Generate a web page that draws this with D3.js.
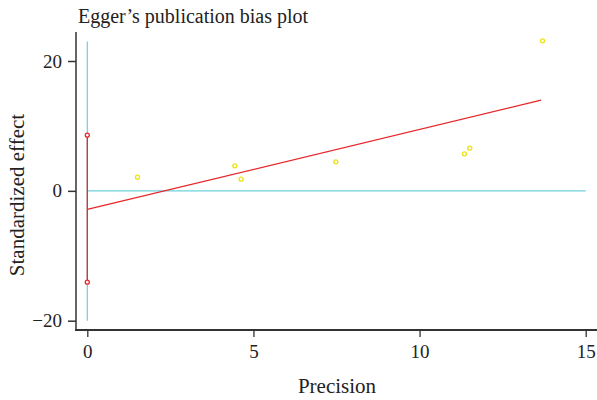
<!DOCTYPE html>
<meta charset="utf-8">
<script src="https://d3js.org/d3.v7.min.js"></script>
<style>
  body { margin: 0; background: #fff; }
  text { font-family: "Liberation Serif", "DejaVu Serif", serif; fill: #222; }
</style>
<div id="my_dataviz"></div>
<script>
// study points: precision vs standardized effect
var precision = [1.51, 4.44, 4.63, 7.48, 11.35, 11.51, 13.70];
var stdEffect = [2.11, 3.85, 1.80, 4.47, 5.70, 6.58, 23.1];

// regression line (intercept at 0, end at max precision)
var fitX = [0, 13.66];
var fitY = [-2.87, 13.97];

// confidence interval of the intercept
var ciBounds = [8.58, -14.07];

var xTicks = [0, 5, 10, 15];
var yTicks = [-20, 0, 20];

var W = 597, H = 400;

var svg = d3.select("#my_dataviz")
  .append("svg")
    .attr("width", W)
    .attr("height", H);

var x = d3.scaleLinear().domain([0, 15]).range([87.3, 585.7]);
var y = d3.scaleLinear().domain([-20, 20]).range([320.7, 61]);

// axis lines
svg.append("line")
  .attr("x1", 76).attr("x2", 76)
  .attr("y1", 32).attr("y2", 331)
  .attr("stroke", "#666").attr("stroke-width", 2);
svg.append("line")
  .attr("x1", 75).attr("x2", 597)
  .attr("y1", 330).attr("y2", 330)
  .attr("stroke", "#333").attr("stroke-width", 2);

// Y axis
var yAxis = svg.append("g")
  .attr("transform", "translate(76,0)")
  .call(d3.axisLeft(y).tickValues(yTicks).tickSize(8).tickPadding(6)
    .tickFormat(function (d) { return d < 0 ? "\u2212" + Math.abs(d) : d; }));
yAxis.select(".domain").remove();
yAxis.selectAll("line").attr("stroke", "#333").attr("stroke-width", 1.5);
yAxis.selectAll("text").attr("font-size", 19).attr("fill", "#222")
  .style("font-family", "Liberation Serif, serif");

// X axis
var xAxis = svg.append("g")
  .attr("transform", "translate(0,330)")
  .call(d3.axisBottom(x).tickValues(xTicks).tickSize(7).tickPadding(8));
xAxis.select(".domain").remove();
xAxis.selectAll("line").attr("stroke", "#333").attr("stroke-width", 1.3);
xAxis.selectAll("text").attr("font-size", 19).attr("fill", "#222")
  .style("font-family", "Liberation Serif, serif");

// reference lines (cyan)
svg.append("line")
  .attr("x1", x(0)).attr("x2", x(0))
  .attr("y1", y(-20)).attr("y2", y(23))
  .attr("stroke", "#6fd0dc").attr("stroke-width", 1.2);
svg.append("line")
  .attr("x1", x(0)).attr("x2", x(15))
  .attr("y1", y(0)).attr("y2", y(0))
  .attr("stroke", "#6fd0dc").attr("stroke-width", 1.2);

// intercept CI (red)
svg.append("line")
  .attr("x1", x(0)).attr("x2", x(0))
  .attr("y1", y(ciBounds[0])).attr("y2", y(ciBounds[1]))
  .attr("stroke", "#e8262a").attr("stroke-width", 1.3);
svg.selectAll("circle.ci")
  .data(ciBounds)
  .enter()
  .append("circle")
    .attr("class", "ci")
    .attr("cx", x(0))
    .attr("cy", function (d) { return y(d); })
    .attr("r", 2)
    .attr("fill", "#fff")
    .attr("stroke", "#e8262a")
    .attr("stroke-width", 1.3);

// regression line
svg.append("line")
  .attr("x1", x(fitX[0])).attr("x2", x(fitX[1]))
  .attr("y1", y(fitY[0])).attr("y2", y(fitY[1]))
  .attr("stroke", "#e8262a").attr("stroke-width", 1.3);

// study points
svg.append("g")
  .selectAll("circle")
  .data(precision)
  .enter()
  .append("circle")
    .attr("cx", function (d) { return x(d); })
    .attr("cy", function (d, i) { return y(stdEffect[i]); })
    .attr("r", 2)
    .attr("fill", "#fff")
    .attr("stroke", "#eee21a")
    .attr("stroke-width", 1.4);

// title and labels
svg.append("text")
  .attr("x", 78).attr("y", 23)
  .attr("font-size", 20)
  .text("Egger\u2019s publication bias plot");

svg.append("text")
  .attr("text-anchor", "middle")
  .attr("x", 337).attr("y", 393)
  .attr("font-size", 21)
  .text("Precision");

svg.append("text")
  .attr("text-anchor", "middle")
  .attr("transform", "translate(24,195) rotate(-90)")
  .attr("font-size", 21)
  .text("Standardized effect");
</script>
